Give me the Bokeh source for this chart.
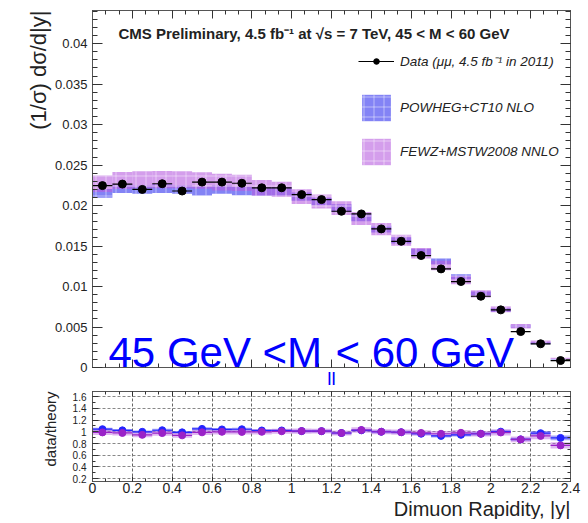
import numpy as np
from bokeh.plotting import figure
from bokeh.layouts import column
from bokeh.models import (ColumnDataSource, Range1d, LinearAxis, FixedTicker,
                          Label, Legend, LegendItem, Grid, Title)
from bokeh.embed import file_html
from bokeh.resources import INLINE

# Dimuon rapidity bins (|y|), 45 < M < 60 GeV
bin_low = [0.0, 0.1, 0.2, 0.3, 0.4, 0.5, 0.6, 0.7, 0.8, 0.9, 1.0, 1.1,
           1.2, 1.3, 1.4, 1.5, 1.6, 1.7, 1.8, 1.9, 2.0, 2.1, 2.2, 2.3]
bin_high = [0.1, 0.2, 0.3, 0.4, 0.5, 0.6, 0.7, 0.8, 0.9, 1.0, 1.1, 1.2,
            1.3, 1.4, 1.5, 1.6, 1.7, 1.8, 1.9, 2.0, 2.1, 2.2, 2.3, 2.4]

# normalised cross section (1/sigma) dsigma/d|y|
data_xsec = [0.02247, 0.02266, 0.02200, 0.02270, 0.02180, 0.02290, 0.02290, 0.02276,
             0.02220, 0.02220, 0.02136, 0.02074, 0.01930, 0.01897, 0.01712, 0.01559,
             0.01383, 0.01218, 0.01062, 0.00880, 0.00712, 0.00444, 0.00293, 0.00086]
powheg_xsec = [0.02150, 0.02210, 0.02200, 0.02210, 0.02200, 0.02180, 0.02200, 0.02180,
               0.02170, 0.02170, 0.02110, 0.02050, 0.01970, 0.01850, 0.01710, 0.01570,
               0.01430, 0.01310, 0.01120, 0.00910, 0.00710, 0.00510, 0.00300, 0.00096]
fewz_xsec = [0.02270, 0.02310, 0.02320, 0.02320, 0.02320, 0.02310, 0.02290, 0.02280,
             0.02220, 0.02200, 0.02110, 0.02050, 0.01970, 0.01840, 0.01710, 0.01570,
             0.01410, 0.01260, 0.01080, 0.00910, 0.00720, 0.00510, 0.00315, 0.00112]
# relative theory uncertainties
powheg_rel_err = [0.025, 0.024, 0.024, 0.025, 0.024, 0.025, 0.024, 0.024,
                  0.023, 0.024, 0.024, 0.023, 0.024, 0.024, 0.025, 0.025,
                  0.026, 0.027, 0.028, 0.030, 0.032, 0.034, 0.038, 0.045]
fewz_rel_err = [0.045, 0.046, 0.045, 0.046, 0.045, 0.044, 0.045, 0.044,
                0.044, 0.043, 0.043, 0.042, 0.043, 0.044, 0.044, 0.045,
                0.046, 0.047, 0.048, 0.050, 0.052, 0.055, 0.060, 0.070]

# axis ticks and their labels
x_ticks = [0.0, 0.2, 0.4, 0.6, 0.8, 1.0, 1.2, 1.4, 1.6, 1.8, 2.0, 2.2, 2.4]
x_tick_labels = ["0", "0.2", "0.4", "0.6", "0.8", "1", "1.2", "1.4", "1.6",
                 "1.8", "2", "2.2", "2.4"]
y_ticks = [0.0, 0.005, 0.01, 0.015, 0.02, 0.025, 0.03, 0.035, 0.04]
y_tick_labels = ["0", "0.005", "0.01", "0.015", "0.02", "0.025", "0.03", "0.035", "0.04"]
r_ticks = [0.2, 0.4, 0.6, 0.8, 1.0, 1.2, 1.4, 1.6]
r_tick_labels = ["0.2", "0.4", "0.6", "0.8", "1", "1.2", "1.4", "1.6"]

FONT = "Liberation Sans"
TXT = "#222222"
BLUE_BAND = "#5a5af2"
PURPLE_BAND = "#b85ee0"
BLUE_PT = "#2424ff"
PURPLE_PT = "#9a22c8"
CAPTION_BLUE = "#0000ff"

lo = np.array(bin_low)
hi = np.array(bin_high)
mid = 0.5 * (lo + hi)
data = np.array(data_xsec)
pw = np.array(powheg_xsec)
fz = np.array(fewz_xsec)
pw_e = np.array(powheg_rel_err)
fz_e = np.array(fewz_rel_err)

src = ColumnDataSource(dict(
    lo=lo, hi=hi, mid=mid, data=data,
    pw_bot=pw * (1 - pw_e), pw_top=pw * (1 + pw_e),
    fz_bot=fz * (1 - fz_e), fz_top=fz * (1 + fz_e),
    r_pw=data / pw, r_fz=data / fz,
    r_pw_bot=data / pw * (1 - pw_e), r_pw_top=data / pw * (1 + pw_e),
    r_fz_bot=data / fz * (1 - fz_e), r_fz_top=data / fz * (1 + fz_e),
))

x_minor = list(np.round(np.arange(0, 2.4001, 0.2 / 3), 4))
y_minor = list(np.round(np.arange(0, 0.0441, 0.001), 4))
r_minor = list(np.round(np.arange(0.2, 1.7, 0.1), 2))


def style_axis(ax, major, minor, labels, overrides=None, size="12px", standoff=5):
    ax.major_tick_in = major
    ax.major_tick_out = 0
    ax.minor_tick_in = minor
    ax.minor_tick_out = 0
    ax.axis_line_color = "#555555"
    ax.major_tick_line_color = "#333333"
    ax.minor_tick_line_color = "#333333"
    if labels:
        ax.major_label_text_font = FONT
        ax.major_label_text_font_size = size
        ax.major_label_text_color = TXT
        ax.major_label_standoff = standoff
        if overrides:
            ax.major_label_overrides = overrides
    else:
        # tick marks only
        ax.major_label_text_font_size = "1px"
        ax.major_label_text_color = None
        ax.major_label_standoff = 0


# ---------------- upper panel: cross section ----------------
main = figure(frame_width=478, frame_height=357, x_range=Range1d(0, 2.4),
              y_range=Range1d(0, 0.0441), x_axis_type=None, y_axis_type=None,
              output_backend="svg", toolbar_location=None, min_border_left=92,
              min_border_right=18, min_border_top=10, min_border_bottom=0)
main.outline_line_color = "#555555"

xt = FixedTicker(ticks=x_ticks, minor_ticks=x_minor)
yt = FixedTicker(ticks=y_ticks, minor_ticks=y_minor)

# bottom axis carries the subscript of the mass-window caption as its label
ax = LinearAxis(ticker=xt)
style_axis(ax, 8, 4, False)
ax.axis_label = "ll"
ax.axis_label_text_font = FONT
ax.axis_label_text_font_size = "19px"
ax.axis_label_text_font_style = "normal"
ax.axis_label_text_color = CAPTION_BLUE
ax.axis_label_standoff = 0
main.add_layout(ax, "below")
ax = LinearAxis(ticker=xt); style_axis(ax, 8, 4, False); main.add_layout(ax, "above")
ax = LinearAxis(ticker=yt)
style_axis(ax, 10, 5, True, dict(zip(y_ticks, y_tick_labels)), "13px", 5)
main.add_layout(ax, "left")
main.add_layout(Title(text="(1/\u03c3) d\u03c3/d|y|", align="right", text_font=FONT,
                      text_font_size="22px", text_font_style="normal",
                      text_color=TXT, standoff=2), "left")
ax = LinearAxis(ticker=yt); style_axis(ax, 10, 5, False); main.add_layout(ax, "right")

r_pw_band = main.quad(left="lo", right="hi", bottom="pw_bot", top="pw_top", source=src,
                      fill_color=BLUE_BAND, fill_alpha=0.75, line_color=None,
                      hatch_pattern="+", hatch_color="white", hatch_alpha=0.45,
                      hatch_scale=10, hatch_weight=1)
r_fz_band = main.quad(left="lo", right="hi", bottom="fz_bot", top="fz_top", source=src,
                      fill_color=PURPLE_BAND, fill_alpha=0.6, line_color=None,
                      hatch_pattern="+", hatch_color="white", hatch_alpha=0.45,
                      hatch_scale=10, hatch_weight=1)
r_dline = main.segment(x0="lo", x1="hi", y0="data", y1="data", source=src,
                       line_color="black", line_width=1.2)
r_dpt = main.scatter(x="mid", y="data", source=src, size=8, marker="circle",
                     fill_color="black", line_color="black")


def style_legend(lg, glyph_h, label_h):
    lg.glyph_width = 36
    lg.glyph_height = glyph_h
    lg.label_height = label_h
    lg.spacing = 11
    lg.padding = 0
    lg.margin = 0
    lg.label_standoff = 6
    lg.label_text_font = FONT
    lg.label_text_font_style = "italic"
    lg.label_text_font_size = "13.5px"
    lg.label_text_color = TXT
    lg.border_line_alpha = 0
    lg.background_fill_alpha = 0


data_legend = Legend(items=[
    LegendItem(label="Data (\u03bc\u03bc, 4.5 fb\u207b\u00b9 in 2011)",
               renderers=[r_dline, r_dpt]),
], location=(266, 297))
style_legend(data_legend, 14, 14)
main.add_layout(data_legend, "center")

theory_legend = Legend(items=[
    LegendItem(label="POWHEG+CT10 NLO", renderers=[r_pw_band]),
    LegendItem(label="FEWZ+MSTW2008 NNLO", renderers=[r_fz_band]),
], location=(266, 199))
style_legend(theory_legend, 33, 20)
main.add_layout(theory_legend, "center")

main.add_layout(Label(x=118, y=33, x_units="canvas", y_units="canvas",
                      text="CMS Preliminary, 4.5 fb\u207b\u00b9 at \u221as = 7 TeV, 45 < M < 60 GeV",
                      text_font=FONT, text_font_style="bold", text_font_size="15px",
                      text_color=TXT, text_baseline="alphabetic"))
# mass window caption
main.add_layout(Label(x=108, y=352, x_units="canvas", y_units="canvas",
                      text="45 GeV <M", text_font=FONT, text_font_size="42px",
                      text_color=CAPTION_BLUE, text_baseline="alphabetic"))
main.add_layout(Label(x=335, y=352, x_units="canvas", y_units="canvas",
                      text="< 60 GeV", text_font=FONT, text_font_size="42px",
                      text_color=CAPTION_BLUE, text_baseline="alphabetic"))

# ---------------- lower panel: data / theory ----------------
ratio = figure(frame_width=478, frame_height=90, x_range=Range1d(0.0, 2.4),
               y_range=Range1d(0.15, 1.69), x_axis_type=None, y_axis_type=None,
               output_backend="svg", toolbar_location=None, min_border_left=92,
               min_border_right=18, min_border_top=0, min_border_bottom=0)
ratio.outline_line_color = "#555555"

rt = FixedTicker(ticks=r_ticks, minor_ticks=r_minor)
ax = LinearAxis(ticker=xt)
style_axis(ax, 5, 3, True, dict(zip(x_ticks, x_tick_labels)), "14px", 1)
ratio.add_layout(ax, "below")
ratio.add_layout(Title(text="Dimuon Rapidity, |y|", align="right", text_font=FONT,
                       text_font_size="20px", text_font_style="normal",
                       text_color=TXT, standoff=0), "below")
ax = LinearAxis(ticker=xt); style_axis(ax, 5, 3, False); ratio.add_layout(ax, "above")
ax = LinearAxis(ticker=rt)
style_axis(ax, 6, 3, True, dict(zip(r_ticks, r_tick_labels)), "10px", 6)
ratio.add_layout(ax, "left")
ratio.add_layout(Title(text="data/theory", align="right", text_font=FONT,
                       text_font_size="15px", text_font_style="normal",
                       text_color=TXT, standoff=22), "left")
ax = LinearAxis(ticker=rt); style_axis(ax, 6, 3, False); ratio.add_layout(ax, "right")

ratio.add_layout(Grid(dimension=0, ticker=xt, grid_line_color="#666666",
                      grid_line_dash="3 2", grid_line_width=1))
ratio.add_layout(Grid(dimension=1, ticker=rt, grid_line_color="#888888",
                      grid_line_dash="3 2", grid_line_width=1))

ratio.quad(left="lo", right="hi", bottom="r_pw_bot", top="r_pw_top", source=src,
           fill_color=BLUE_BAND, fill_alpha=0.55, line_color=None)
ratio.quad(left="lo", right="hi", bottom="r_fz_bot", top="r_fz_top", source=src,
           fill_color=PURPLE_BAND, fill_alpha=0.45, line_color=None)
ratio.segment(x0="lo", x1="hi", y0="r_pw", y1="r_pw", source=src,
              line_color=BLUE_PT, line_width=1.2)
ratio.scatter(x="mid", y="r_pw", source=src, size=7, marker="circle",
              fill_color=BLUE_PT, line_color=BLUE_PT)
ratio.segment(x0="lo", x1="hi", y0="r_fz", y1="r_fz", source=src,
              line_color=PURPLE_PT, line_width=1.2)
ratio.scatter(x="mid", y="r_fz", source=src, size=7, marker="circle",
              fill_color=PURPLE_PT, line_color=PURPLE_PT)

layout = column(main, ratio, spacing=0)
open("out.html", "w").write(file_html(layout, INLINE))
